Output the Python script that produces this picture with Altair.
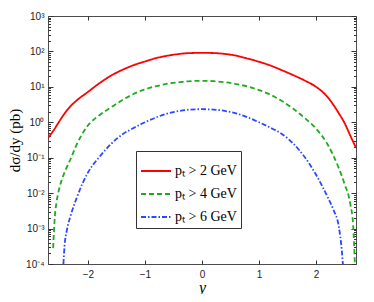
import altair as alt
import pandas as pd

# --- data (y in pb) ---
x_red = [-2.70, -2.60, -2.50, -2.40, -2.30, -2.20, -2.00, -1.80, -1.60, -1.40, -1.20, -1.00,
         -0.80, -0.60, -0.40, -0.20, 0.00, 0.20, 0.40, 0.60, 0.80, 1.00, 1.20, 1.40, 1.60,
         1.80, 2.00, 2.20, 2.40, 2.50, 2.60, 2.70]
y_red = [0.36, 0.60, 1.07, 1.86, 2.9, 4.1, 7.2, 12.6, 20.5, 30.0, 41.0, 52.0,
         65.0, 76.0, 85.0, 90.0, 91.0, 90.0, 85.0, 76.0, 63.0, 51.0, 40.0, 29.5, 21.4,
         15.1, 10.0, 5.2, 1.78, 0.95, 0.42, 0.19]

x_green = [-2.61, -2.58, -2.55, -2.50, -2.45, -2.40, -2.30, -2.20, -2.00, -1.80, -1.60, -1.40,
           -1.20, -1.00, -0.80, -0.60, -0.40, -0.20, 0.00, 0.20, 0.40, 0.60, 0.80, 1.00,
           1.20, 1.40, 1.60, 1.80, 2.00, 2.20, 2.40, 2.50, 2.60, 2.65, 2.68]
y_green = [2.8e-4, 2.2e-3, 5.6e-3, 0.014, 0.026, 0.042, 0.095, 0.23, 0.81, 1.58, 2.6, 4.2,
           6.3, 8.5, 10.5, 12.3, 13.5, 14.5, 14.8, 14.5, 13.5, 12.0, 10.2, 8.1,
           6.0, 4.0, 2.4, 1.32, 0.66, 0.24, 0.05, 0.018, 0.005, 1.26e-3, 1.0e-4]

x_blue = [-2.43, -2.41, -2.37, -2.30, -2.20, -2.10, -2.00, -1.80, -1.60, -1.40, -1.20, -1.00,
          -0.80, -0.60, -0.40, -0.20, 0.00, 0.20, 0.40, 0.60, 0.80, 1.00, 1.20, 1.40,
          1.60, 1.80, 2.00, 2.20, 2.30, 2.40, 2.45, 2.47]
y_blue = [1.0e-4, 3.2e-4, 8.9e-4, 2.4e-3, 7.1e-3, 0.018, 0.038, 0.105, 0.24, 0.45, 0.69, 1.0,
          1.38, 1.78, 2.09, 2.29, 2.34, 2.29, 2.09, 1.78, 1.38, 1.0, 0.70, 0.47,
          0.25, 0.105, 0.033, 7.9e-3, 3.5e-3, 1.1e-3, 2.5e-4, 1.0e-4]

series_names = ["pₜ > 2 GeV", "pₜ > 4 GeV", "pₜ > 6 GeV"]
series_colors = ["#ff0000", "#1faa1f", "#2a48ff"]
series_dash = [[1, 0], [5, 3], [5, 2, 1.5, 2]]

x_ticks = [-2, -1, 0, 1, 2]
y_decades = [1e-4, 1e-3, 1e-2, 1e-1, 1e0, 1e1, 1e2, 1e3]
y_minor = [m * d for d in [1e-4, 1e-3, 1e-2, 1e-1, 1e0, 1e1, 1e2] for m in range(2, 10)]

rows = []
for name, xs, ys in zip(series_names, [x_red, x_green, x_blue], [y_red, y_green, y_blue]):
    for i, (a, b) in enumerate(zip(xs, ys)):
        rows.append({"x": a, "v": b, "s": name, "o": i})
df = pd.DataFrame(rows)

xscale = alt.Scale(domain=[-2.7, 2.7], nice=False, zero=False)
yscale = alt.Scale(type="log", domain=[1e-4, 1e3], nice=False)

tick_col = "#333333"
label_expr = ("'10' + (datum.value >= 999 ? '³' : datum.value >= 99 ? '²' : datum.value >= 9 ? '¹' : "
              "datum.value >= 0.9 ? '⁰' : datum.value >= 0.09 ? '⁻¹' : datum.value >= 0.009 ? '⁻²' : "
              "datum.value >= 0.0009 ? '⁻³' : '⁻⁴')")

main = alt.Chart(df).mark_line(clip=True, strokeWidth=1.8, interpolate="monotone").encode(
    x=alt.X("x:Q", scale=xscale,
            axis=alt.Axis(orient="bottom", values=x_ticks, tickSize=4, offset=-4, domain=False,
                          grid=False, tickColor=tick_col, labelFont="Liberation Sans",
                          labelFontSize=10, labelColor="#222", labelPadding=5, title="y",
                          titleFont="Liberation Serif", titleFontStyle="italic",
                          titleFontWeight="normal", titleFontSize=16, titlePadding=0,
                          titleColor="#000")),
    y=alt.Y("v:Q", scale=yscale,
            axis=alt.Axis(orient="left", values=y_decades, tickSize=5, offset=-5, domain=False,
                          grid=False, tickColor=tick_col, labelExpr=label_expr,
                          labelFont="Liberation Sans", labelFontSize=10, labelColor="#222",
                          labelPadding=4, title="dσ/dy (pb)", titleFont="Liberation Serif",
                          titleFontWeight="normal", titleFontSize=15, titlePadding=3,
                          titleColor="#000")),
    color=alt.Color("s:N", scale=alt.Scale(domain=series_names, range=series_colors),
                    legend=alt.Legend(orient="none", legendX=88, legendY=135, title=None,
                                      strokeColor="#333", fillColor="white", padding=4,
                                      symbolType="stroke", symbolSize=900,
                                      symbolStrokeWidth=1.8, labelFont="Liberation Serif",
                                      labelFontSize=14, labelColor="#000", rowPadding=-10,
                                      labelOffset=3, labelLimit=400,
                                      labelExpr="datum.label + '\u2003\u2003\u2002'")),
    strokeDash=alt.StrokeDash("s:N", scale=alt.Scale(domain=series_names, range=series_dash),
                              legend=None),
    order="o:Q",
)

def axis_layer(xaxis, yaxis):
    return alt.Chart(df).mark_point(opacity=0).encode(
        x=alt.X("x:Q", scale=xscale, axis=xaxis),
        y=alt.Y("v:Q", scale=yscale, axis=yaxis),
    )

common = dict(domain=False, grid=False, labels=False, title=None, tickColor=tick_col)
l_minor = axis_layer(
    alt.Axis(orient="top", values=x_ticks, tickSize=4, offset=-4, **common),
    alt.Axis(orient="left", values=y_minor, tickSize=2.5, offset=-2.5, **common))
r_major = axis_layer(None,
    alt.Axis(orient="right", values=y_decades, tickSize=5, offset=-5, **common))
r_minor = axis_layer(None,
    alt.Axis(orient="right", values=y_minor, tickSize=2.5, offset=-2.5, **common))

chart = alt.layer(main, l_minor, r_major, r_minor).resolve_axis(
    x="independent", y="independent"
).properties(
    width=308, height=248,
    autosize=alt.AutoSizeParams(type="none"),
    padding={"left": 40, "top": 8, "right": 10, "bottom": 30},
).configure_view(stroke="#4d4d4d", strokeWidth=1)

chart.save("out.html", embed_options={"renderer": "svg", "actions": False})
